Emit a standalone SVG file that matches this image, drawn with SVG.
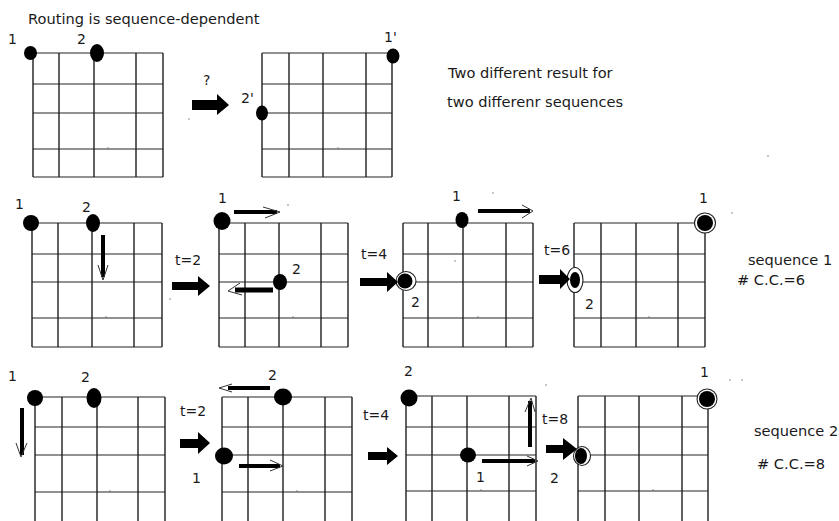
<svg xmlns="http://www.w3.org/2000/svg" width="839" height="521" viewBox="0 0 839 521">
  <defs>
    <style>
      text { font-family: "DejaVu Sans", "Liberation Sans", sans-serif; fill: #1a1a1a; }
      .lbl { font-size: 14px; }
      .cap { font-size: 14.6px; }
      .gh { stroke: #6e6e6e; stroke-width: 1.4; fill: none; }
      .gv { stroke: #1e1e1e; stroke-width: 1.4; fill: none; }
      .dot { fill: #000; }
      .ring { fill: #fff; stroke: #222; stroke-width: 1.1; }
      .big { fill: #000; stroke: none; }
      .shaft { stroke: #000; stroke-width: 4; fill: none; }
      .head { stroke: #333; stroke-width: 1; fill: none; }
      .speck { fill: #666; }
    </style>
  </defs>
  <rect width="839" height="521" fill="#fff"/>

  <!-- captions -->
  <text class="cap" x="28" y="24">Routing is sequence-dependent</text>
  <text class="cap" x="448" y="78">Two different result for</text>
  <text class="cap" x="447" y="107">two differenr sequences</text>
  <text class="cap" x="748" y="265">sequence 1</text>
  <text class="cap" x="737" y="285">#  C.C.=6</text>
  <text class="cap" x="754" y="436">sequence 2</text>
  <text class="cap" x="757" y="469">#  C.C.=8</text>

  <!-- top row: initial and final pin positions -->
  <g id="grid-top-start">
    <path class="gh" d="M33,53 H163 M33,84 H163 M33,113 H163 M33,149 H163 M33,177 H163"/>
    <path class="gv" d="M33,53 V177 M59,53 V177 M94,53 V177 M136,53 V177 M163,53 V177"/>
    <ellipse class="dot" cx="30.5" cy="53" rx="6.5" ry="7"/>
    <ellipse class="dot" cx="97" cy="53" rx="7" ry="9"/>
    <text class="lbl" x="8" y="44">1</text>
    <text class="lbl" x="77" y="44">2</text>
  </g>
  <g id="grid-top-end">
    <path class="gh" d="M262,53 H392 M262,84 H392 M262,113 H392 M262,149 H392 M262,177 H392"/>
    <path class="gv" d="M262,53 V177 M289,53 V177 M323,53 V177 M366,53 V177 M392,53 V177"/>
    <ellipse class="dot" cx="393" cy="56" rx="6.5" ry="7.5"/>
    <ellipse class="dot" cx="262" cy="113" rx="6" ry="7.5"/>
    <text class="lbl" x="384" y="42">1'</text>
    <text class="lbl" x="241" y="103">2'</text>
  </g>

  <!-- sequence 1 -->
  <g id="seq1-t0">
    <path class="gh" d="M32,223 H162 M32,254 H162 M32,282 H162 M32,318 H162 M32,347 H162"/>
    <path class="gv" d="M32,223 V347 M58,223 V347 M92,223 V347 M134,223 V347 M162,223 V347"/>
    <circle class="dot" cx="31" cy="223" r="8"/>
    <ellipse class="dot" cx="93" cy="223" rx="7" ry="9"/>
    <text class="lbl" x="15" y="209">1</text>
    <text class="lbl" x="82" y="212">2</text>
    <path class="shaft" d="M103,235 V277"/>
    <path class="head" d="M98,265 L103,280 L108,265"/>
  </g>
  <g id="seq1-t2">
    <path class="gh" d="M219,223 H348 M219,254 H348 M219,282 H348 M219,318 H348 M219,347 H348"/>
    <path class="gv" d="M219,223 V347 M245,223 V347 M279,223 V347 M321,223 V347 M348,223 V347"/>
    <ellipse class="dot" cx="222" cy="221" rx="8.5" ry="9"/>
    <ellipse class="dot" cx="280" cy="282" rx="7" ry="8"/>
    <text class="lbl" x="218" y="203">1</text>
    <text class="lbl" x="292" y="274">2</text>
    <path class="shaft" d="M234,212 H277"/>
    <path class="head" d="M263,207 L280,212 L265,218"/>
    <path class="shaft" d="M273,290 H235" style="stroke-width:5"/>
    <path class="head" d="M240,283 L228,291 L242,295"/>
  </g>
  <g id="seq1-t4">
    <path class="gh" d="M403,223 H533 M403,254 H533 M403,282 H533 M403,318 H533 M403,347 H533"/>
    <path class="gv" d="M403,223 V347 M428,223 V347 M463,223 V347 M506,223 V347 M533,223 V347"/>
    <ellipse class="dot" cx="462" cy="220" rx="6.5" ry="8"/>
    <ellipse class="ring" cx="406" cy="281" rx="10" ry="9.5"/>
    <circle class="dot" cx="405" cy="281" r="7.5"/>
    <text class="lbl" x="452" y="201">1</text>
    <text class="lbl" x="411" y="307">2</text>
    <path class="shaft" d="M478,211 H530"/>
    <path class="head" d="M522,205 L533,211 L522,218"/>
  </g>
  <g id="seq1-t6">
    <path class="gh" d="M574,223 H705 M574,254 H705 M574,282 H705 M574,318 H705 M574,347 H705"/>
    <path class="gv" d="M574,223 V347 M601,223 V347 M636,223 V347 M678,223 V347 M705,223 V347"/>
    <ellipse class="ring" cx="705" cy="223" rx="10.5" ry="10"/>
    <circle class="dot" cx="705" cy="223" r="8"/>
    <ellipse class="ring" cx="575" cy="280" rx="8" ry="12.5"/>
    <ellipse class="dot" cx="575" cy="280" rx="5" ry="8"/>
    <text class="lbl" x="699" y="203">1</text>
    <text class="lbl" x="585" y="309">2</text>
  </g>

  <!-- sequence 2 -->
  <g id="seq2-t0">
    <path class="gh" d="M35,397 H165 M35,427 H165 M35,455 H165 M35,492 H165"/>
    <path class="gv" d="M35,397 V521 M62,397 V521 M97,397 V521 M138,397 V521 M165,397 V521"/>
    <circle class="dot" cx="35" cy="398" r="8"/>
    <ellipse class="dot" cx="94" cy="398" rx="7.5" ry="10"/>
    <text class="lbl" x="8" y="381">1</text>
    <text class="lbl" x="81" y="382">2</text>
    <path class="shaft" d="M22,408 V455"/>
    <path class="head" d="M16,443 L21,457 L27,443"/>
  </g>
  <g id="seq2-t2">
    <path class="gh" d="M222,397 H352 M222,427 H352 M222,455 H352 M222,492 H352"/>
    <path class="gv" d="M222,397 V521 M248,397 V521 M283,397 V521 M325,397 V521 M352,397 V521"/>
    <ellipse class="dot" cx="283" cy="397" rx="9" ry="8.5"/>
    <ellipse class="dot" cx="224" cy="456" rx="9" ry="8.5"/>
    <text class="lbl" x="268" y="380">2</text>
    <text class="lbl" x="192" y="483">1</text>
    <path class="shaft" d="M270,388 H228"/>
    <path class="head" d="M232,384 L219,388 L232,392"/>
    <path class="shaft" d="M239,466 H280"/>
    <path class="head" d="M270,460 L283,466 L270,471"/>
  </g>
  <g id="seq2-t4">
    <path class="gh" d="M406,396 H536 M406,427 H536 M406,455 H536 M406,491 H536"/>
    <path class="gv" d="M406,396 V521 M432,396 V521 M467,396 V521 M509,396 V521 M536,396 V521"/>
    <circle class="dot" cx="409" cy="398" r="8.5"/>
    <ellipse class="dot" cx="468" cy="455" rx="8" ry="7.5"/>
    <text class="lbl" x="404" y="376">2</text>
    <text class="lbl" x="476" y="482">1</text>
    <path class="shaft" d="M482,461 H535"/>
    <path class="head" d="M527,456 L538,461 L527,466"/>
    <path class="shaft" d="M530,447 V401"/>
    <path class="head" d="M525,412 L531,398 L535,412"/>
  </g>
  <g id="seq2-t8">
    <path class="gh" d="M578,396 H708 M578,427 H708 M578,455 H708 M578,491 H708"/>
    <path class="gv" d="M578,396 V521 M605,396 V521 M639,396 V521 M682,396 V521 M708,396 V521"/>
    <circle class="ring" cx="707" cy="399" r="10"/>
    <circle class="dot" cx="707" cy="399" r="8"/>
    <ellipse class="ring" cx="582" cy="456" rx="8.5" ry="9.5"/>
    <ellipse class="dot" cx="581" cy="456" rx="6" ry="8"/>
    <text class="lbl" x="700" y="377">1</text>
  </g>

  <!-- step arrows between stages -->
  <g id="connectors">
    <path class="big" d="M192,100 H217 V94 L229,105 L217,115 V110 H192 Z"/>
    <text class="lbl" x="203" y="85">?</text>

    <path class="big" d="M172,282 H198 V276 L210,286 L198,296 V290 H172 Z"/>
    <text class="lbl" x="175" y="265">t=2</text>
    <path class="big" d="M360,278 H387 V272 L398,282 L387,292 V286 H360 Z"/>
    <text class="lbl" x="361" y="259">t=4</text>
    <path class="big" d="M539,275 H560 V269 L570,279 L560,289 V284 H539 Z"/>
    <text class="lbl" x="544" y="255">t=6</text>

    <path class="big" d="M180,439 H198 V432 L210,443 L198,454 V448 H180 Z"/>
    <text class="lbl" x="180" y="416">t=2</text>
    <path class="big" d="M368,452 H387 V447 L398,456 L387,465 V460 H368 Z"/>
    <text class="lbl" x="363" y="420">t=4</text>
    <path class="big" d="M546,445 H563 V438 L577,449 L563,460 V453 H546 Z"/>
    <text class="lbl" x="542" y="424">t=8</text>
    <text class="lbl" x="550" y="483">2</text>
  </g>

  <!-- scanner specks -->
  <g id="specks">
    <circle class="speck" cx="189" cy="119" r="0.7"/>
    <circle class="speck" cx="108" cy="148" r="0.7"/>
    <circle class="speck" cx="338" cy="148" r="0.7"/>
    <circle class="speck" cx="768" cy="156" r="0.7"/>
    <circle class="speck" cx="170" cy="299" r="0.7"/>
    <circle class="speck" cx="106" cy="317" r="0.7"/>
    <circle class="speck" cx="293" cy="317" r="0.7"/>
    <circle class="speck" cx="288" cy="205" r="0.7"/>
    <circle class="speck" cx="493" cy="193" r="0.7"/>
    <circle class="speck" cx="455" cy="261" r="0.7"/>
    <circle class="speck" cx="428" cy="271" r="0.6"/>
    <circle class="speck" cx="428" cy="275" r="0.6"/>
    <circle class="speck" cx="478" cy="317" r="0.7"/>
    <circle class="speck" cx="649" cy="317" r="0.7"/>
    <circle class="speck" cx="732" cy="213" r="0.7"/>
    <circle class="speck" cx="110" cy="491" r="0.7"/>
    <circle class="speck" cx="297" cy="491" r="0.7"/>
    <circle class="speck" cx="546" cy="385" r="0.7"/>
    <circle class="speck" cx="730" cy="380" r="0.7"/>
    <circle class="speck" cx="742" cy="380" r="0.7"/>
    <circle class="speck" cx="481" cy="490" r="0.7"/>
    <circle class="speck" cx="653" cy="490" r="0.7"/>
  </g>
</svg>
